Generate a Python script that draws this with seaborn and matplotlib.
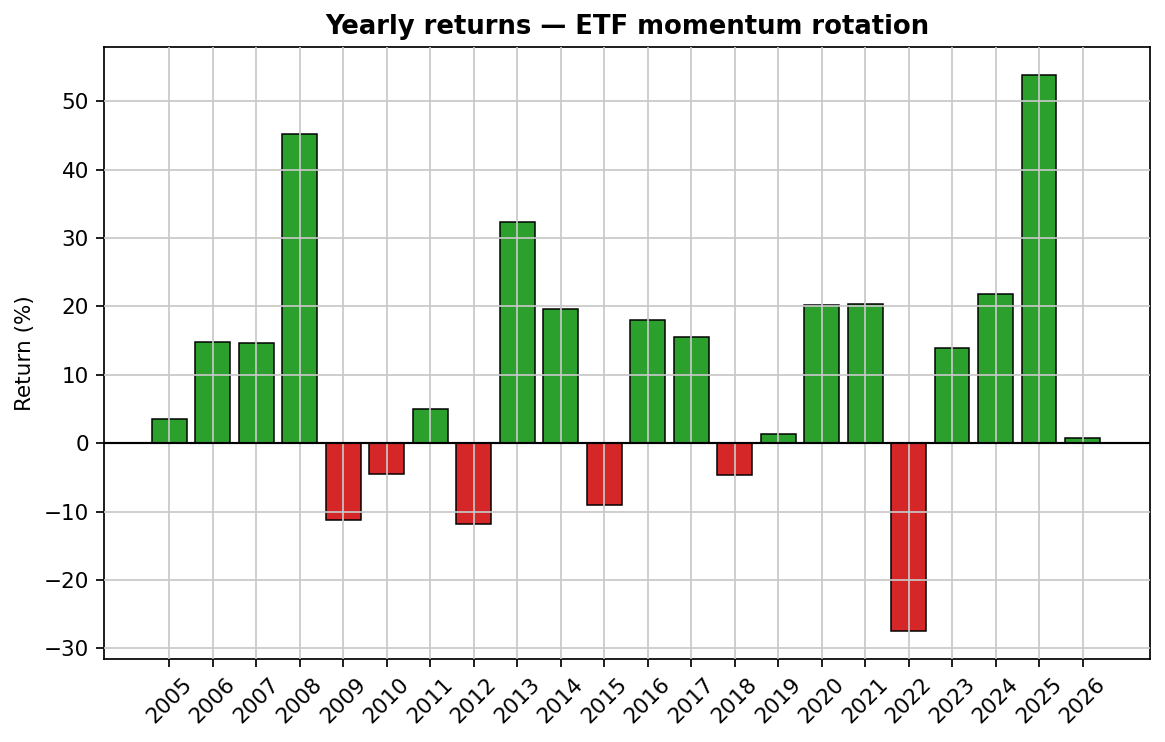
import numpy as np
import pandas as pd
import seaborn as sns
import matplotlib.pyplot as plt

anos = [str(a) for a in range(2005, 2027)]
retornos = [3.5, 14.8, 14.6, 45.2, -11.3, -4.5, 5.0, -11.8, 32.3, 19.7, -9.1,
            18.0, 15.6, -4.7, 1.3, 20.2, 20.3, -27.5, 13.9, 21.8, 53.9, 0.7]

df = pd.DataFrame({'ano': anos, 'retorno': retornos})
df['sinal'] = np.where(df['retorno'] >= 0, 'pos', 'neg')

dpi = 155
fig, ax = plt.subplots(figsize=(1165 / dpi, 742 / dpi), dpi=dpi)
sns.barplot(
    data=df,
    x='ano',
    y='retorno',
    hue='sinal',
    palette={'pos': '#2ca02c', 'neg': '#d62728'},
    edgecolor='black',
    linewidth=0.7,
    width=0.8,
    dodge=False,
    legend=False,
    saturation=1,
    ax=ax,
)

ax.grid(True, color='#c8c8c8', linewidth=0.8)
ax.set_axisbelow(False)
for b in ax.patches:
    b.set_zorder(1)
ax.axhline(0, color='black', linewidth=1, zorder=3)

ax.set_xlim(-1.5, 22.55)
ax.set_title('Yearly returns — ETF momentum rotation', fontsize=12, fontweight='bold')
ax.set_ylabel('Return (%)')
ax.set_xlabel('')
plt.setp(ax.get_xticklabels(), rotation=45)

fig.subplots_adjust(left=0.0893, right=0.9871, top=0.9367, bottom=0.1119)
plt.savefig('out.png')
